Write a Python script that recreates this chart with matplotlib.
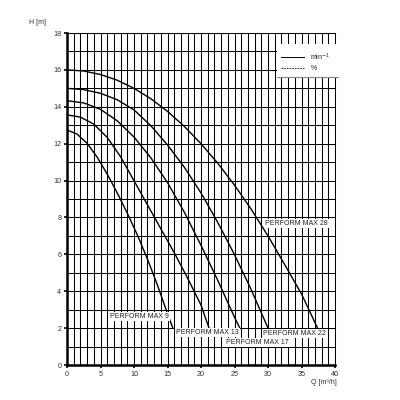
import matplotlib.pyplot as plt
from matplotlib.patches import Rectangle

plt.rcParams['font.family'] = ['Liberation Sans', 'DejaVu Sans']

# pump curves: flow Q [m3/h] and head H [m]
q_max9 = [0, 1.5, 3.0, 4.5, 6.0, 7.5, 9.0, 10.5, 12.0, 13.5, 15.0, 15.8]
h_max9 = [12.74, 12.52, 12.02, 11.27, 10.35, 9.33, 8.23, 7.05, 5.75, 4.33, 2.78, 2.0]

q_max13 = [0, 2, 4, 6, 8, 10, 12, 14, 16, 18, 20, 21.2]
h_max13 = [13.56, 13.44, 13.06, 12.34, 11.29, 9.99, 8.69, 7.39, 6.09, 4.71, 3.25, 2.0]

q_max17 = [0, 2.5, 5, 7.5, 10, 12.5, 15, 17.5, 20, 22.5, 25, 25.8]
h_max17 = [14.33, 14.21, 13.86, 13.24, 12.36, 11.24, 9.89, 8.29, 6.49, 4.59, 2.59, 2.0]

q_max22 = [0, 2.5, 5, 7.5, 10, 12.5, 15, 17.5, 20, 22.5, 25, 27.5, 30]
h_max22 = [15, 14.93, 14.73, 14.38, 13.83, 12.98, 11.93, 10.73, 9.33, 7.73, 5.98, 4.08, 2.0]

q_max28 = [0, 2.5, 5, 7.5, 10, 12.5, 15, 17.5, 20, 22.5, 25, 27.5, 30, 32.5, 35, 37.4]
h_max28 = [16, 15.94, 15.75, 15.44, 15.0, 14.44, 13.75, 12.94, 12.0, 10.94, 9.75, 8.44,
           7.0, 5.44, 3.85, 2.0]

curves = [
    (q_max9, h_max9, "PERFORM MAX 9", 6.4, 2.62),
    (q_max13, h_max13, "PERFORM MAX 13", 16.3, 1.75),
    (q_max17, h_max17, "PERFORM MAX 17", 23.7, 1.23),
    (q_max22, h_max22, "PERFORM MAX 22", 29.3, 1.72),
    (q_max28, h_max28, "PERFORM MAX 28", 29.6, 7.68),
]

fig = plt.figure(figsize=(4, 4), dpi=100)
ax = fig.add_axes([0.1675, 0.0875, 0.67, 0.83])

ax.set_xlim(0, 40)
ax.set_ylim(0, 18)
ax.set_xticks(range(0, 41, 5))
ax.set_xticks(range(0, 41, 1), minor=True)
ax.set_yticks(range(0, 19, 2))
ax.set_yticks(range(0, 19, 1), minor=True)
ax.grid(True, which='both', color='black', linewidth=0.75)
ax.set_axisbelow(True)
ax.tick_params(which='major', length=2.5, width=1.2, pad=1.5, labelsize=5.2,
               labelcolor='#333333', color='black')
ax.tick_params(which='minor', length=0)
for side in ['left', 'bottom']:
    ax.spines[side].set_linewidth(1.8)
for side in ['top', 'right']:
    ax.spines[side].set_linewidth(0.75)

for q, h, name, lx, ly in curves:
    ax.plot(q, h, color='black', linewidth=1.0, solid_capstyle='butt')
    ax.text(lx, ly, name, fontsize=5, ha='left', va='center', color='#222222',
            bbox=dict(facecolor='white', edgecolor='none', pad=0.6))

# legend box in the upper right corner
ax.add_patch(Rectangle((31.3, 15.6), 9.1, 1.8, facecolor='white',
                       edgecolor='none', clip_on=False, zorder=3))
ax.plot([31.3, 40.4], [15.6, 15.6], color='#888888', linewidth=0.8,
        clip_on=False, zorder=4)
ax.plot([32.0, 35.4], [16.7, 16.7], color='black', linewidth=0.7, zorder=4)
ax.plot([32.0, 35.4], [16.1, 16.1], color='black', linewidth=0.6,
        linestyle=(0, (2, 1.2)), zorder=4)
ax.text(36.3, 16.7, "min$^{-1}$", fontsize=5, va='center', ha='left',
        color='#222222', zorder=5)
ax.text(36.4, 16.1, "%", fontsize=5, va='center', ha='left',
        color='#222222', zorder=5)

ax.text(-5.6, 18.55, "H [m]", fontsize=5, ha='left', va='center', color='#333333')
ax.text(40.3, -0.95, "Q [m³/h]", fontsize=5, ha='right', va='center', color='#333333')

fig.savefig("out.png", dpi=100)
